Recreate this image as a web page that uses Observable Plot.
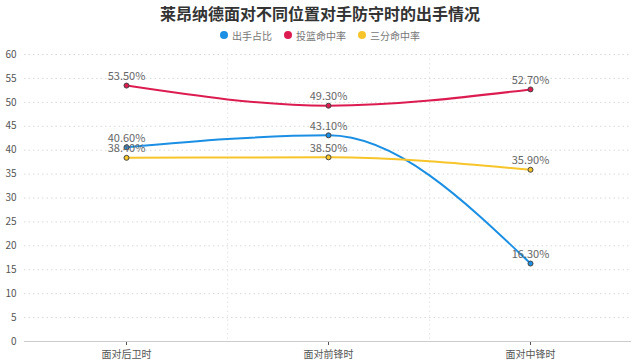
<!DOCTYPE html>
<html><head><meta charset="utf-8">
<script src="https://cdn.jsdelivr.net/npm/d3@7"></script>
<script src="https://cdn.jsdelivr.net/npm/@observablehq/plot@0.6"></script>
<style>
body{margin:0;background:#fff;font-family:"Noto Sans CJK SC","Noto Sans",sans-serif;}
#title{height:26px;line-height:26px;text-align:center;font-size:16px;font-weight:bold;color:#333;}
#legend{height:18px;display:flex;justify-content:center;align-items:center;gap:12px;font-size:10px;color:#777;}
#legend span.i{display:inline-flex;align-items:center;gap:4px;}
#legend span.c{width:8px;height:8px;border-radius:50%;display:inline-block;}
</style></head>
<body>
<div id="title">莱昂纳德面对不同位置对手防守时的出手情况</div>
<div id="legend"></div>
<div id="chart"></div>
<script>
const categories = ["面对后卫时", "面对前锋时", "面对中锋时"];
const seriesNames = ["出手占比", "投篮命中率", "三分命中率"];
const seriesColors = ["#1a8fe3", "#dc1c50", "#f7c52a"];
const shotShare = [40.6, 43.1, 16.3];
const fgPct = [53.5, 49.3, 52.7];
const threePct = [38.4, 38.5, 35.9];
const yTicks = [0, 5, 10, 15, 20, 25, 30, 35, 40, 45, 50, 55, 60];

const seriesValues = [shotShare, fgPct, threePct];
const data = [];
seriesNames.forEach((s, i) => categories.forEach((c, j) => data.push({series: s, cat: c, value: seriesValues[i][j]})));

const leg = document.getElementById("legend");
seriesNames.forEach((s, i) => {
  const el = document.createElement("span");
  el.className = "i";
  el.innerHTML = `<span class="c" style="background:${seriesColors[i]}"></span>${s}`;
  leg.appendChild(el);
});

const W = 640, ML = 24, MR = 9;
const halfStep = (W - ML - MR) / categories.length / 2;

const chart = Plot.plot({
  width: W, height: 317,
  marginLeft: ML, marginRight: MR, marginTop: 10, marginBottom: 20,
  style: {fontFamily: '"Noto Sans CJK SC", sans-serif', fontSize: "10px", color: "#555"},
  x: {type: "point", domain: categories, padding: 0.5, label: null, tickSize: 4},
  y: {domain: [0, 60], ticks: yTicks, label: null, tickSize: 0, tickPadding: 8},
  color: {domain: seriesNames, range: seriesColors},
  marks: [
    Plot.ruleY(yTicks.filter(d => d > 0), {stroke: "#d8d8d8", strokeDasharray: "1.5,3"}),
    Plot.ruleX(categories.slice(0, 2), {dx: halfStep, stroke: "#e4e4e4", strokeDasharray: "1.5,3"}),
    Plot.ruleY([0], {stroke: "#ccc"}),
    Plot.line(data, {x: "cat", y: "value", z: "series", stroke: "series", strokeWidth: 2, curve: "monotone-x"}),
    Plot.dot(data, {x: "cat", y: "value", fill: "series", stroke: "#444", r: 2.5, strokeWidth: 1}),
    Plot.text(data, {x: "cat", y: "value", text: d => d.value.toFixed(2) + "%", dy: -9, fill: "#666", fontSize: 11})
  ]
});
document.getElementById("chart").appendChild(chart);
</script>
</body></html>
